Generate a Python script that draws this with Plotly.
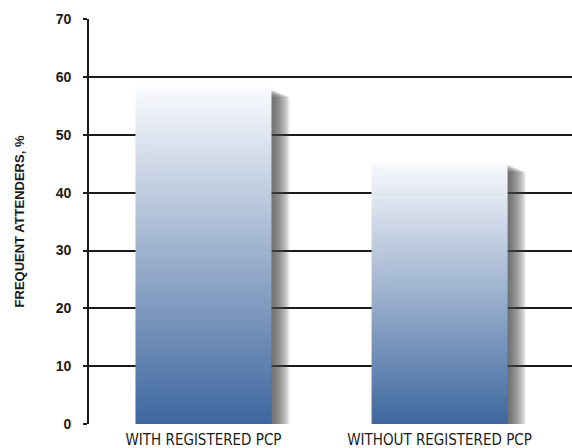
import plotly.graph_objects as go

categories = ["WITH REGISTERED PCP", "WITHOUT REGISTERED PCP"]
values = [58.2, 45.2]
y_ticks = [0, 10, 20, 30, 40, 50, 60, 70]
y_title = "FREQUENT ATTENDERS, %"

BOTTOM = (62, 103, 158)
TOP = (249, 250, 253)
N = 60
BAR_W = 0.572
PX = 1 / 236.0  # one pixel in category units

fig = go.Figure()

# soft drop shadow to the right of each bar
for k in range(12):
    d = (1 + 1.6 * k) * PX
    fig.add_trace(go.Bar(
        x=categories,
        y=[v - 0.3 - 0.12 * k for v in values],
        base=[0] * len(values),
        width=BAR_W,
        offset=-BAR_W / 2 + d,
        marker=dict(color="rgba(70,70,70,0.12)", line=dict(width=0)),
        hoverinfo="skip", showlegend=False,
    ))

# vertical gradient made from thin stacked segments
for i in range(N):
    t = (i + 0.5) / N
    c = tuple(round(BOTTOM[j] + (TOP[j] - BOTTOM[j]) * t) for j in range(3))
    col = "rgb(%d,%d,%d)" % c
    fig.add_trace(go.Bar(
        x=categories,
        y=[v / N for v in values],
        base=[v * i / N for v in values],
        width=BAR_W,
        marker=dict(color=col, line=dict(width=1, color=col)),
        hoverinfo="skip", showlegend=False,
    ))

fig.update_layout(
    width=572, height=448,
    margin=dict(l=89, r=0, t=19, b=24),
    paper_bgcolor="white", plot_bgcolor="white",
    barmode="overlay",
    showlegend=False,
    xaxis=dict(
        type="category",
        range=[-0.485, 1.561],
        showline=False, showgrid=False, ticks="",
        ticklabelstandoff=5,
        tickfont=dict(family="DejaVu Sans Condensed, Liberation Sans Narrow, Liberation Sans, sans-serif",
                      size=15, color="#1a1a1a"),
        fixedrange=True,
    ),
    yaxis=dict(
        range=[0, 70.05],
        tickvals=y_ticks,
        showgrid=True, gridcolor="#1a1a1a", gridwidth=1.8,
        showline=True, linecolor="#1a1a1a", linewidth=1.8,
        ticks="outside", ticklen=4, tickwidth=1.8, tickcolor="#1a1a1a",
        ticklabelstandoff=9,
        tickfont=dict(family="Liberation Sans, Arial, sans-serif", size=14, color="#1a1a1a", weight="bold"),
        title=dict(text=y_title, standoff=28,
                   font=dict(family="Liberation Sans, Arial, sans-serif", size=13,
                             color="#1a1a1a", weight="bold")),
        zeroline=False,
        fixedrange=True,
    ),
)

fig.write_html("out.html")
